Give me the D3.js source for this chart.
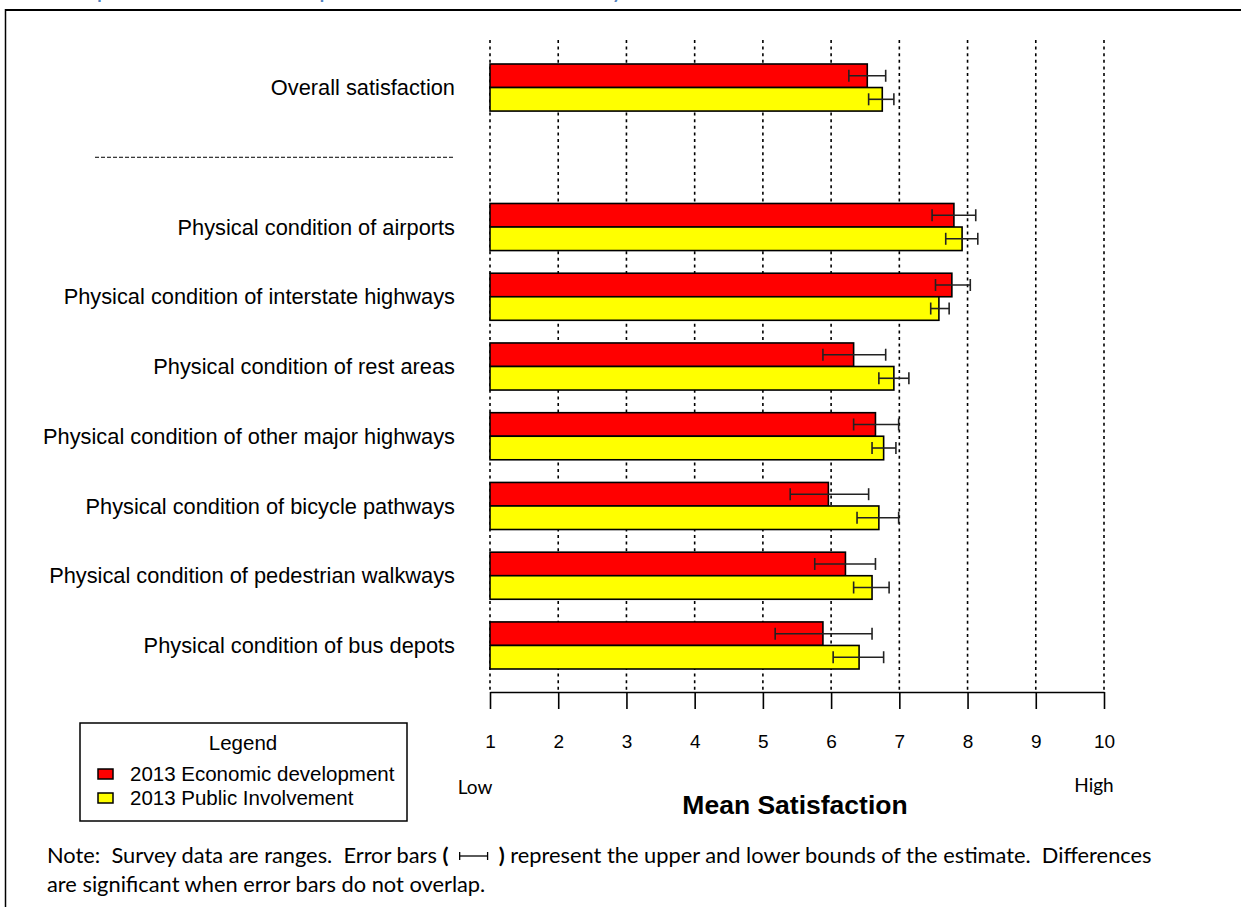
<!DOCTYPE html>
<html>
<head>
<meta charset="utf-8">
<script src="https://cdn.jsdelivr.net/npm/d3@7"></script>
<style>
  body { margin: 0; background: #fff; }
  svg { display: block; }
  .lbl { font-family: "Liberation Sans", Arial, sans-serif; fill: #000; }
  .note { font-family: Lato, "Open Sans", sans-serif; fill: #000; white-space: pre; }
</style>
</head>
<body>
<div id="chart"></div>
<script>
// categories, top to bottom (a blank separator slot sits after the first one)
var categories = [
  "Overall satisfaction",
  "Physical condition of airports",
  "Physical condition of interstate highways",
  "Physical condition of rest areas",
  "Physical condition of other major highways",
  "Physical condition of bicycle pathways",
  "Physical condition of pedestrian walkways",
  "Physical condition of bus depots"
];
var seriesNames = ["2013 Economic development", "2013 Public Involvement"];
var seriesColors = ["#ff0000", "#ffff00"];

// 2013 Economic development: mean and lower / upper bounds
var econMean = [6.53, 7.80, 7.77, 6.33, 6.65, 5.96, 6.21, 5.88];
var econLow  = [6.26, 7.48, 7.53, 5.88, 6.33, 5.40, 5.76, 5.18];
var econHigh = [6.80, 8.12, 8.04, 6.80, 6.99, 6.55, 6.65, 6.60];

// 2013 Public Involvement: mean and lower / upper bounds
var pubMean = [6.75, 7.92, 7.58, 6.92, 6.77, 6.70, 6.60, 6.41];
var pubLow  = [6.55, 7.68, 7.46, 6.70, 6.60, 6.38, 6.33, 6.03];
var pubHigh = [6.92, 8.15, 7.73, 7.14, 6.95, 6.99, 6.85, 6.77];

var xTicks = [1, 2, 3, 4, 5, 6, 7, 8, 9, 10];

var W = 1241, H = 907;

var svg = d3.select("#chart")
  .append("svg")
  .attr("width", W)
  .attr("height", H);

// heading above the frame, mostly cut off by the page edge as in the original
svg.append("text")
  .attr("x", 60)
  .attr("y", -1)
  .style("font-family", "Lato, sans-serif")
  .style("font-weight", "bold")
  .style("font-size", "18px")
  .style("fill", "#4f81bd")
  .text("Comparison of Economic Development and Public Involvement Survey");

// frame
svg.append("line").attr("x1", 5).attr("x2", W).attr("y1", 10).attr("y2", 10)
  .style("stroke", "#000").style("stroke-width", 2);
svg.append("line").attr("x1", 5.5).attr("x2", 5.5).attr("y1", 9).attr("y2", H)
  .style("stroke", "#000").style("stroke-width", 1.5);

// rows: first category, separator slot, the rest
var rows = [categories[0], "separator"].concat(categories.slice(1));

var x = d3.scaleLinear()
  .domain([1, 10])
  .range([490, 1104]);

var y = d3.scaleBand()
  .domain(rows)
  .range([64, 669])
  .paddingInner(0.325)
  .paddingOuter(0);

var ySub = d3.scaleBand()
  .domain([0, 1])
  .range([0, y.bandwidth()]);

var axisY = 692;

// dotted grid
svg.append("g")
  .selectAll("line")
  .data(xTicks)
  .enter()
  .append("line")
  .attr("x1", d => x(d)).attr("x2", d => x(d))
  .attr("y1", 40).attr("y2", axisY)
  .style("stroke", "#000")
  .style("stroke-width", 1.6)
  .style("stroke-dasharray", "3,3.6");

// axis
var axis = svg.append("g")
  .attr("transform", "translate(0," + axisY + ")")
  .call(d3.axisBottom(x)
    .tickValues(xTicks)
    .tickFormat(d3.format("d"))
    .tickSize(17)
    .tickSizeOuter(0)
    .tickPadding(26));
axis.select(".domain").style("stroke", "#000").style("stroke-width", 1.6);
axis.selectAll(".tick line").style("stroke", "#000").style("stroke-width", 1.6);
axis.selectAll(".tick text")
  .attr("class", "lbl")
  .style("font-size", "19px")
  .style("font-family", "'Liberation Sans', Arial, sans-serif");

// build bar data
var barData = [];
categories.forEach(function (c, i) {
  barData.push({ cat: c, s: 0, mean: econMean[i], lo: econLow[i], hi: econHigh[i] });
  barData.push({ cat: c, s: 1, mean: pubMean[i], lo: pubLow[i], hi: pubHigh[i] });
});

var bars = svg.append("g");
bars.selectAll("rect")
  .data(barData)
  .enter()
  .append("rect")
  .attr("x", x(1))
  .attr("y", d => y(d.cat) + ySub(d.s))
  .attr("width", d => x(d.mean) - x(1))
  .attr("height", ySub.bandwidth())
  .style("fill", d => seriesColors[d.s])
  .style("stroke", "#000")
  .style("stroke-width", 1.6);

// error bars
var err = svg.append("g")
  .style("stroke", "#222")
  .style("stroke-width", 1.6);
barData.forEach(function (d) {
  var cy = y(d.cat) + ySub(d.s) + ySub.bandwidth() / 2;
  err.append("line").attr("x1", x(d.lo)).attr("x2", x(d.hi)).attr("y1", cy).attr("y2", cy);
  err.append("line").attr("x1", x(d.lo)).attr("x2", x(d.lo)).attr("y1", cy - 6).attr("y2", cy + 6);
  err.append("line").attr("x1", x(d.hi)).attr("x2", x(d.hi)).attr("y1", cy - 6).attr("y2", cy + 6);
});

// category labels
svg.append("g")
  .selectAll("text")
  .data(categories)
  .enter()
  .append("text")
  .attr("class", "lbl")
  .attr("x", 455)
  .attr("y", d => y(d) + y.bandwidth() / 2)
  .attr("dy", "0.35em")
  .attr("text-anchor", "end")
  .style("font-size", "21.8px")
  .text(d => d);

// separator line in the blank slot
var sepY = y("separator") + y.bandwidth() / 2;
svg.append("line")
  .attr("x1", 95).attr("x2", 455)
  .attr("y1", sepY).attr("y2", sepY)
  .style("stroke", "#000")
  .style("stroke-width", 1)
  .style("stroke-dasharray", "4,2");

// Low / High and axis title
svg.append("text").attr("class", "note")
  .attr("x", 475).attr("y", 794).attr("text-anchor", "middle")
  .style("font-size", "19px").text("Low");
svg.append("text").attr("class", "note")
  .attr("x", 1094).attr("y", 792).attr("text-anchor", "middle")
  .style("font-size", "19px").text("High");
svg.append("text").attr("class", "lbl")
  .attr("x", 795).attr("y", 814).attr("text-anchor", "middle")
  .style("font-size", "26.5px").style("font-weight", "bold")
  .text("Mean Satisfaction");

// legend
var lg = svg.append("g");
lg.append("rect")
  .attr("x", 80).attr("y", 723).attr("width", 327).attr("height", 98)
  .style("fill", "#fff").style("stroke", "#000").style("stroke-width", 1.5);
lg.append("text").attr("class", "lbl")
  .attr("x", 243).attr("y", 750).attr("text-anchor", "middle")
  .style("font-size", "20.5px").text("Legend");
seriesNames.forEach(function (name, i) {
  lg.append("rect")
    .attr("x", 98).attr("y", 769 + i * 24).attr("width", 15).attr("height", 10)
    .style("fill", seriesColors[i]).style("stroke", "#000").style("stroke-width", 1.5);
  lg.append("text").attr("class", "lbl")
    .attr("x", 130).attr("y", 781 + i * 24)
    .style("font-size", "20.5px").text(name);
});

// note under the chart
var note1 = svg.append("text").attr("class", "note")
  .attr("x", 47).attr("y", 863).style("font-size", "19px");
note1.append("tspan").text("Note:  Survey data are ranges.  Error bars ");
note1.append("tspan").style("font-weight", "bold").text("(");
note1.append("tspan").text("         ");
note1.append("tspan").style("font-weight", "bold").text(")");
note1.append("tspan").text(" represent the upper and lower bounds of the estimate.  Differences");

var note2 = svg.append("text").attr("class", "note")
  .attr("x", 47).attr("y", 892).style("font-size", "19px")
  .text("are significant when error bars do not overlap.");

// fit the note font to the line width seen in the original
var fs = 19 * 1105 / note1.node().getComputedTextLength();
note1.style("font-size", fs + "px");
note2.style("font-size", fs + "px");

// small error-bar symbol drawn in the gap between the brackets
var g0 = note1.node().getStartPositionOfChar(46).x;
var g1 = note1.node().getStartPositionOfChar(51).x;
var sy = 856;
var sym = svg.append("g").style("stroke", "#000").style("stroke-width", 1.3);
sym.append("line").attr("x1", g0).attr("x2", g1).attr("y1", sy).attr("y2", sy);
sym.append("line").attr("x1", g0).attr("x2", g0).attr("y1", sy - 4).attr("y2", sy + 4);
sym.append("line").attr("x1", g1).attr("x2", g1).attr("y1", sy - 4).attr("y2", sy + 4);
</script>
</body>
</html>
